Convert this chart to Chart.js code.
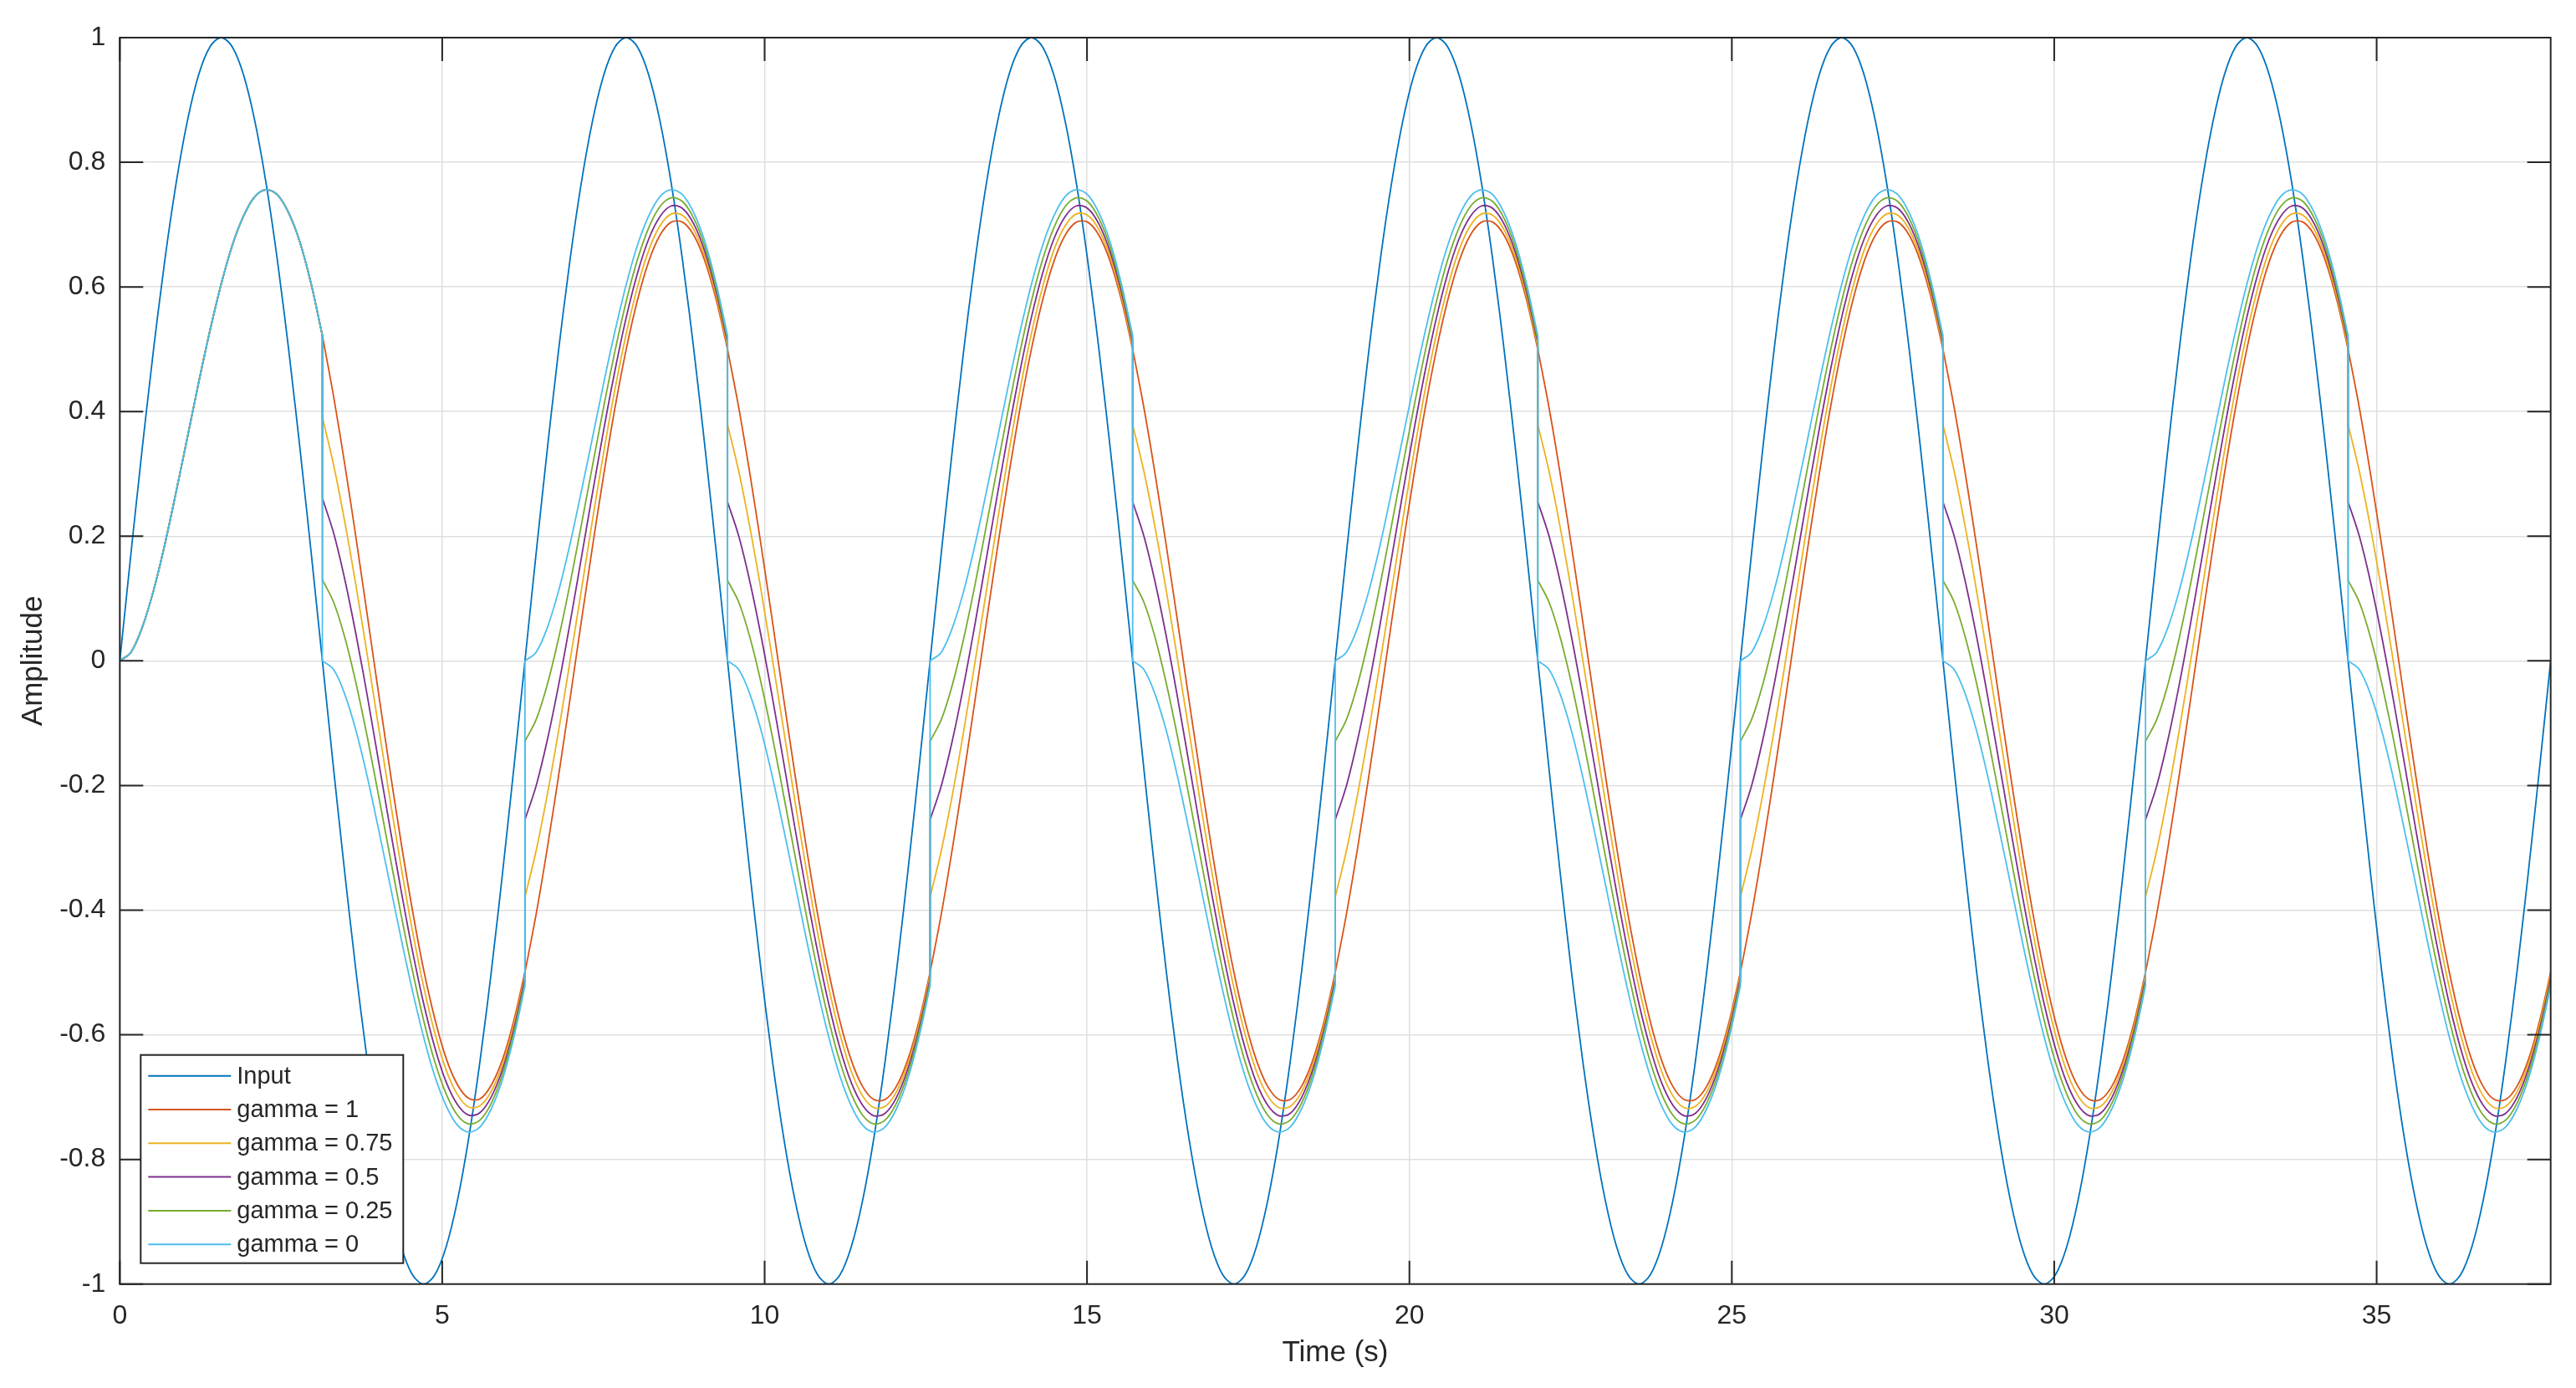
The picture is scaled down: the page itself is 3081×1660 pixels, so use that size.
<!DOCTYPE html>
<html>
<head>
<meta charset="utf-8">
<title>Reset system response</title>
<script src="https://cdn.jsdelivr.net/npm/chart.js@4.4.1/dist/chart.umd.min.js"></script>
<style>
  html, body { margin: 0; padding: 0; background: #fff; }
  #wrap { width: 3081px; height: 1660px; position: relative; }
</style>
</head>
<body>
<div id="wrap"><canvas id="respChart"></canvas></div>
<script>
// --- datos (una fila = medio periodo, pi segundos) ---
const timeS = [
  0, .1745, .3491, .5236, .6981, .8727, 1.0472, 1.2217, 1.3963, 1.5708, 1.7453, 1.9199, 2.0944, 2.2689, 2.4435, 2.618, 2.7925, 2.9671, 3.1416,
  3.1416, 3.3161, 3.4907, 3.6652, 3.8397, 4.0143, 4.1888, 4.3633, 4.5379, 4.7124, 4.8869, 5.0615, 5.236, 5.4105, 5.5851, 5.7596, 5.9341, 6.1087, 6.2832,
  6.2832, 6.4577, 6.6323, 6.8068, 6.9813, 7.1558, 7.3304, 7.5049, 7.6794, 7.854, 8.0285, 8.203, 8.3776, 8.5521, 8.7266, 8.9012, 9.0757, 9.2502, 9.4248,
  9.4248, 9.5993, 9.7738, 9.9484, 10.1229, 10.2974, 10.472, 10.6465, 10.821, 10.9956, 11.1701, 11.3446, 11.5192, 11.6937, 11.8682, 12.0428, 12.2173, 12.3918, 12.5664,
  12.5664, 12.7409, 12.9154, 13.09, 13.2645, 13.439, 13.6136, 13.7881, 13.9626, 14.1372, 14.3117, 14.4862, 14.6608, 14.8353, 15.0098, 15.1844, 15.3589, 15.5334, 15.708,
  15.708, 15.8825, 16.057, 16.2316, 16.4061, 16.5806, 16.7552, 16.9297, 17.1042, 17.2788, 17.4533, 17.6278, 17.8024, 17.9769, 18.1514, 18.326, 18.5005, 18.675, 18.8496,
  18.8496, 19.0241, 19.1986, 19.3732, 19.5477, 19.7222, 19.8968, 20.0713, 20.2458, 20.4204, 20.5949, 20.7694, 20.944, 21.1185, 21.293, 21.4675, 21.6421, 21.8166, 21.9911,
  21.9911, 22.1657, 22.3402, 22.5147, 22.6893, 22.8638, 23.0383, 23.2129, 23.3874, 23.5619, 23.7365, 23.911, 24.0855, 24.2601, 24.4346, 24.6091, 24.7837, 24.9582, 25.1327,
  25.1327, 25.3073, 25.4818, 25.6563, 25.8309, 26.0054, 26.1799, 26.3545, 26.529, 26.7035, 26.8781, 27.0526, 27.2271, 27.4017, 27.5762, 27.7507, 27.9253, 28.0998, 28.2743,
  28.2743, 28.4489, 28.6234, 28.7979, 28.9725, 29.147, 29.3215, 29.4961, 29.6706, 29.8451, 30.0197, 30.1942, 30.3687, 30.5433, 30.7178, 30.8923, 31.0669, 31.2414, 31.4159,
  31.4159, 31.5905, 31.765, 31.9395, 32.1141, 32.2886, 32.4631, 32.6377, 32.8122, 32.9867, 33.1613, 33.3358, 33.5103, 33.6849, 33.8594, 34.0339, 34.2085, 34.383, 34.5575,
  34.5575, 34.7321, 34.9066, 35.0811, 35.2557, 35.4302, 35.6047, 35.7792, 35.9538, 36.1283, 36.3028, 36.4774, 36.6519, 36.8264, 37.001, 37.1755, 37.35, 37.5246, 37.6991
];

const inputY = [
  0, .174, .342, .5, .643, .766, .866, .94, .985, 1, .985, .94, .866, .766, .643, .5, .342, .174, 0,
  0, -.174, -.342, -.5, -.643, -.766, -.866, -.94, -.985, -1, -.985, -.94, -.866, -.766, -.643, -.5, -.342, -.174, 0,
  0, .174, .342, .5, .643, .766, .866, .94, .985, 1, .985, .94, .866, .766, .643, .5, .342, .174, 0,
  0, -.174, -.342, -.5, -.643, -.766, -.866, -.94, -.985, -1, -.985, -.94, -.866, -.766, -.643, -.5, -.342, -.174, 0,
  0, .174, .342, .5, .643, .766, .866, .94, .985, 1, .985, .94, .866, .766, .643, .5, .342, .174, 0,
  0, -.174, -.342, -.5, -.643, -.766, -.866, -.94, -.985, -1, -.985, -.94, -.866, -.766, -.643, -.5, -.342, -.174, 0,
  0, .174, .342, .5, .643, .766, .866, .94, .985, 1, .985, .94, .866, .766, .643, .5, .342, .174, 0,
  0, -.174, -.342, -.5, -.643, -.766, -.866, -.94, -.985, -1, -.985, -.94, -.866, -.766, -.643, -.5, -.342, -.174, 0,
  0, .174, .342, .5, .643, .766, .866, .94, .985, 1, .985, .94, .866, .766, .643, .5, .342, .174, 0,
  0, -.174, -.342, -.5, -.643, -.766, -.866, -.94, -.985, -1, -.985, -.94, -.866, -.766, -.643, -.5, -.342, -.174, 0,
  0, .174, .342, .5, .643, .766, .866, .94, .985, 1, .985, .94, .866, .766, .643, .5, .342, .174, 0,
  0, -.174, -.342, -.5, -.643, -.766, -.866, -.94, -.985, -1, -.985, -.94, -.866, -.766, -.643, -.5, -.342, -.174, 0
];

const gamma1Y = [
  0, .014, .054, .113, .187, .271, .358, .446, .529, .604, .667, .714, .745, .756, .748, .719, .672, .605, .522,
  .522, .424, .314, .196, .072, -.053, -.175, -.292, -.4, -.496, -.575, -.638, -.68, -.702, -.703, -.681, -.64, -.578, -.499,
  -.5, -.406, -.299, -.183, -.062, .062, .183, .299, .406, .5, .579, .641, .683, .704, .704, .683, .641, .579, .5,
  .5, .406, .299, .183, .062, -.062, -.183, -.299, -.406, -.5, -.579, -.641, -.683, -.704, -.704, -.683, -.641, -.579, -.5,
  -.5, -.406, -.299, -.183, -.062, .062, .183, .299, .406, .5, .579, .641, .683, .704, .704, .683, .641, .579, .5,
  .5, .406, .299, .183, .062, -.062, -.183, -.299, -.406, -.5, -.579, -.641, -.683, -.704, -.704, -.683, -.641, -.579, -.5,
  -.5, -.406, -.299, -.183, -.062, .062, .183, .299, .406, .5, .579, .641, .683, .704, .704, .683, .641, .579, .5,
  .5, .406, .299, .183, .062, -.062, -.183, -.299, -.406, -.5, -.579, -.641, -.683, -.704, -.704, -.683, -.641, -.579, -.5,
  -.5, -.406, -.299, -.183, -.062, .062, .183, .299, .406, .5, .579, .641, .683, .704, .704, .683, .641, .579, .5,
  .5, .406, .299, .183, .062, -.062, -.183, -.299, -.406, -.5, -.579, -.641, -.683, -.704, -.704, -.683, -.641, -.579, -.5,
  -.5, -.406, -.299, -.183, -.062, .062, .183, .299, .406, .5, .579, .641, .683, .704, .704, .683, .641, .579, .5,
  .5, .406, .299, .183, .062, -.062, -.183, -.299, -.406, -.5, -.579, -.641, -.683, -.704, -.704, -.683, -.641, -.579, -.5
];

const gamma075Y = [
  0, .014, .054, .113, .187, .271, .358, .446, .529, .604, .667, .714, .745, .756, .748, .719, .672, .605, .522,
  .391, .314, .222, .119, .008, -.107, -.221, -.331, -.433, -.523, -.598, -.657, -.696, -.716, -.714, -.691, -.648, -.585, -.505,
  -.379, -.304, -.213, -.111, -.001, .112, .226, .335, .436, .525, .6, .659, .698, .717, .715, .692, .648, .585, .505,
  .379, .304, .213, .111, .001, -.112, -.226, -.335, -.436, -.525, -.6, -.659, -.698, -.717, -.715, -.692, -.648, -.585, -.505,
  -.379, -.304, -.213, -.111, -.001, .112, .226, .335, .436, .525, .6, .659, .698, .717, .715, .692, .648, .585, .505,
  .379, .304, .213, .111, .001, -.112, -.226, -.335, -.436, -.525, -.6, -.659, -.698, -.717, -.715, -.692, -.648, -.585, -.505,
  -.379, -.304, -.213, -.111, -.001, .112, .226, .335, .436, .525, .6, .659, .698, .717, .715, .692, .648, .585, .505,
  .379, .304, .213, .111, .001, -.112, -.226, -.335, -.436, -.525, -.6, -.659, -.698, -.717, -.715, -.692, -.648, -.585, -.505,
  -.379, -.304, -.213, -.111, -.001, .112, .226, .335, .436, .525, .6, .659, .698, .717, .715, .692, .648, .585, .505,
  .379, .304, .213, .111, .001, -.112, -.226, -.335, -.436, -.525, -.6, -.659, -.698, -.717, -.715, -.692, -.648, -.585, -.505,
  -.379, -.304, -.213, -.111, -.001, .112, .226, .335, .436, .525, .6, .659, .698, .717, .715, .692, .648, .585, .505,
  .379, .304, .213, .111, .001, -.112, -.226, -.335, -.436, -.525, -.6, -.659, -.698, -.717, -.715, -.692, -.648, -.585, -.505
];

const gamma05Y = [
  0, .014, .054, .113, .187, .271, .358, .446, .529, .604, .667, .714, .745, .756, .748, .719, .672, .605, .522,
  .261, .205, .13, .041, -.057, -.162, -.267, -.369, -.465, -.55, -.621, -.676, -.712, -.729, -.725, -.7, -.656, -.592, -.51,
  -.255, -.2, -.126, -.038, .06, .164, .269, .371, .466, .551, .622, .677, .713, .73, .726, .701, .656, .592, .511,
  .255, .2, .126, .038, -.06, -.164, -.269, -.371, -.466, -.551, -.622, -.677, -.713, -.73, -.726, -.701, -.656, -.592, -.511,
  -.255, -.2, -.126, -.038, .06, .164, .269, .371, .466, .551, .622, .677, .713, .73, .726, .701, .656, .592, .511,
  .255, .2, .126, .038, -.06, -.164, -.269, -.371, -.466, -.551, -.622, -.677, -.713, -.73, -.726, -.701, -.656, -.592, -.511,
  -.255, -.2, -.126, -.038, .06, .164, .269, .371, .466, .551, .622, .677, .713, .73, .726, .701, .656, .592, .511,
  .255, .2, .126, .038, -.06, -.164, -.269, -.371, -.466, -.551, -.622, -.677, -.713, -.73, -.726, -.701, -.656, -.592, -.511,
  -.255, -.2, -.126, -.038, .06, .164, .269, .371, .466, .551, .622, .677, .713, .73, .726, .701, .656, .592, .511,
  .255, .2, .126, .038, -.06, -.164, -.269, -.371, -.466, -.551, -.622, -.677, -.713, -.73, -.726, -.701, -.656, -.592, -.511,
  -.255, -.2, -.126, -.038, .06, .164, .269, .371, .466, .551, .622, .677, .713, .73, .726, .701, .656, .592, .511,
  .255, .2, .126, .038, -.06, -.164, -.269, -.371, -.466, -.551, -.622, -.677, -.713, -.73, -.726, -.701, -.656, -.592, -.511
];

const gamma025Y = [
  0, .014, .054, .113, .187, .271, .358, .446, .529, .604, .667, .714, .745, .756, .748, .719, .672, .605, .522,
  .13, .094, .037, -.037, -.123, -.217, -.313, -.408, -.497, -.577, -.644, -.695, -.729, -.743, -.737, -.71, -.664, -.598, -.516,
  -.129, -.094, -.037, .037, .123, .217, .313, .408, .497, .577, .644, .695, .729, .743, .737, .71, .664, .598, .516,
  .129, .094, .037, -.037, -.123, -.217, -.313, -.408, -.497, -.577, -.644, -.695, -.729, -.743, -.737, -.71, -.664, -.598, -.516,
  -.129, -.094, -.037, .037, .123, .217, .313, .408, .497, .577, .644, .695, .729, .743, .737, .71, .664, .598, .516,
  .129, .094, .037, -.037, -.123, -.217, -.313, -.408, -.497, -.577, -.644, -.695, -.729, -.743, -.737, -.71, -.664, -.598, -.516,
  -.129, -.094, -.037, .037, .123, .217, .313, .408, .497, .577, .644, .695, .729, .743, .737, .71, .664, .598, .516,
  .129, .094, .037, -.037, -.123, -.217, -.313, -.408, -.497, -.577, -.644, -.695, -.729, -.743, -.737, -.71, -.664, -.598, -.516,
  -.129, -.094, -.037, .037, .123, .217, .313, .408, .497, .577, .644, .695, .729, .743, .737, .71, .664, .598, .516,
  .129, .094, .037, -.037, -.123, -.217, -.313, -.408, -.497, -.577, -.644, -.695, -.729, -.743, -.737, -.71, -.664, -.598, -.516,
  -.129, -.094, -.037, .037, .123, .217, .313, .408, .497, .577, .644, .695, .729, .743, .737, .71, .664, .598, .516,
  .129, .094, .037, -.037, -.123, -.217, -.313, -.408, -.497, -.577, -.644, -.695, -.729, -.743, -.737, -.71, -.664, -.598, -.516
];

const gamma0Y = [
  0, .014, .054, .113, .187, .271, .358, .446, .529, .604, .667, .714, .745, .756, .748, .719, .672, .605, .522,
  0, -.014, -.054, -.113, -.187, -.271, -.358, -.446, -.529, -.604, -.667, -.714, -.745, -.756, -.748, -.719, -.672, -.605, -.522,
  0, .014, .054, .113, .187, .271, .358, .446, .529, .604, .667, .714, .745, .756, .748, .719, .672, .605, .522,
  0, -.014, -.054, -.113, -.187, -.271, -.358, -.446, -.529, -.604, -.667, -.714, -.745, -.756, -.748, -.719, -.672, -.605, -.522,
  0, .014, .054, .113, .187, .271, .358, .446, .529, .604, .667, .714, .745, .756, .748, .719, .672, .605, .522,
  0, -.014, -.054, -.113, -.187, -.271, -.358, -.446, -.529, -.604, -.667, -.714, -.745, -.756, -.748, -.719, -.672, -.605, -.522,
  0, .014, .054, .113, .187, .271, .358, .446, .529, .604, .667, .714, .745, .756, .748, .719, .672, .605, .522,
  0, -.014, -.054, -.113, -.187, -.271, -.358, -.446, -.529, -.604, -.667, -.714, -.745, -.756, -.748, -.719, -.672, -.605, -.522,
  0, .014, .054, .113, .187, .271, .358, .446, .529, .604, .667, .714, .745, .756, .748, .719, .672, .605, .522,
  0, -.014, -.054, -.113, -.187, -.271, -.358, -.446, -.529, -.604, -.667, -.714, -.745, -.756, -.748, -.719, -.672, -.605, -.522,
  0, .014, .054, .113, .187, .271, .358, .446, .529, .604, .667, .714, .745, .756, .748, .719, .672, .605, .522,
  0, -.014, -.054, -.113, -.187, -.271, -.358, -.446, -.529, -.604, -.667, -.714, -.745, -.756, -.748, -.719, -.672, -.605, -.522
];

const seriesNames = ['Input', 'gamma = 1', 'gamma = 0.75', 'gamma = 0.5', 'gamma = 0.25', 'gamma = 0'];
const seriesColors = ['#0072BD', '#D95319', '#EDB120', '#7E2F8E', '#77AC30', '#4DBEEE'];
const xTicks = [0, 5, 10, 15, 20, 25, 30, 35];
const yTicks = [-1, -0.8, -0.6, -0.4, -0.2, 0, 0.2, 0.4, 0.6, 0.8, 1];

const FONT = '"Liberation Sans", Arial, Helvetica, sans-serif';
const axisColor = '#262626';
const gridColor = '#dfdfdf';
const tickLen = 28;

// tramos suaves: se corta la curva donde el tiempo se repite (reinicio)
function smoothPoints(vals) {
    const pts = [];
    vals.forEach(function (v, i) {
        if (i > 0 && timeS[i] === timeS[i - 1]) pts.push({ x: timeS[i], y: null });
        pts.push({ x: timeS[i], y: v });
    });
    return pts;
}

// saltos verticales en los instantes de reinicio
function jumpPoints(vals) {
    const pts = [];
    vals.forEach(function (v, i) {
        if (i > 0 && timeS[i] === timeS[i - 1]) {
            pts.push({ x: timeS[i], y: vals[i - 1] }, { x: timeS[i], y: v }, { x: timeS[i], y: null });
        }
    });
    return pts;
}

// caja de ejes estilo MATLAB + leyenda dentro del area (abajo a la izquierda)
const matlabFrame = {
    id: 'matlabFrame',
    afterDatasetsDraw(chart) {
        const { ctx, chartArea: a, scales: { x, y } } = chart;
        ctx.save();
        ctx.strokeStyle = axisColor;
        ctx.lineWidth = 2;
        ctx.beginPath();
        xTicks.forEach(function (v) {
            const px = x.getPixelForValue(v);
            ctx.moveTo(px, a.bottom); ctx.lineTo(px, a.bottom - tickLen);
            ctx.moveTo(px, a.top); ctx.lineTo(px, a.top + tickLen);
        });
        yTicks.forEach(function (v) {
            const py = y.getPixelForValue(v);
            ctx.moveTo(a.left, py); ctx.lineTo(a.left + tickLen, py);
            ctx.moveTo(a.right, py); ctx.lineTo(a.right - tickLen, py);
        });
        ctx.stroke();
        ctx.strokeRect(a.left, a.top, a.right - a.left, a.bottom - a.top);
        ctx.restore();
    },
    afterDraw(chart) {
        const { ctx, chartArea: a } = chart;
        const w = 314, h = 249;
        const left = a.left + 25, top = a.bottom - 25 - h;
        ctx.save();
        ctx.fillStyle = '#fff';
        ctx.fillRect(left, top, w, h);
        ctx.strokeStyle = axisColor;
        ctx.lineWidth = 2;
        ctx.strokeRect(left, top, w, h);
        ctx.font = '29px ' + FONT;
        ctx.textBaseline = 'middle';
        ctx.textAlign = 'left';
        seriesNames.forEach(function (name, i) {
            const ry = top + 25 + i * 40.3;
            ctx.strokeStyle = seriesColors[i];
            ctx.lineWidth = 2;
            ctx.beginPath();
            ctx.moveTo(left + 9, ry);
            ctx.lineTo(left + 108, ry);
            ctx.stroke();
            ctx.fillStyle = axisColor;
            ctx.fillText(name, left + 115, ry + 1);
        });
        ctx.restore();
    }
};

const allY = [inputY, gamma1Y, gamma075Y, gamma05Y, gamma025Y, gamma0Y];
const lineStyle = { borderWidth: 1.8, borderJoinStyle: 'round', pointRadius: 0, pointHoverRadius: 0, fill: false, spanGaps: false };

const curveSets = allY.map(function (vals, i) {
    return Object.assign({
        label: seriesNames[i],
        data: smoothPoints(vals),
        borderColor: seriesColors[i],
        backgroundColor: seriesColors[i],
        tension: 1 / 3,
        order: allY.length - 1 - i   // el primero queda debajo, como en MATLAB
    }, lineStyle);
});
const jumpSets = allY.map(function (vals, i) {
    return Object.assign({
        label: seriesNames[i] + ' (reset)',
        data: jumpPoints(vals),
        borderColor: seriesColors[i],
        backgroundColor: seriesColors[i],
        tension: 0,
        order: allY.length - 1 - i
    }, lineStyle);
});

new Chart(document.getElementById('respChart'), {
    type: 'line',
    data: { datasets: curveSets.concat(jumpSets) },
    options: {
        responsive: true,
        maintainAspectRatio: false,
        animation: false,
        events: [],
        layout: { padding: { top: 45, right: 30.3, left: 0, bottom: 0 } },
        plugins: {
            legend: { display: false },
            tooltip: { enabled: false }
        },
        scales: {
            x: {
                type: 'linear',
                min: 0,
                max: timeS[timeS.length - 1],
                afterFit: function (s) { s.height = 124.3; },
                afterBuildTicks: function (s) { s.ticks = xTicks.map(function (v) { return { value: v }; }); },
                grid: { color: gridColor, lineWidth: 1.5, drawTicks: false },
                border: { display: false },
                ticks: {
                    autoSkip: false, maxRotation: 0, padding: 19, color: axisColor,
                    font: { family: FONT, size: 32 },
                    callback: function (v) { return String(v); }
                },
                title: {
                    display: true, text: 'Time (s)', color: axisColor,
                    font: { family: FONT, size: 35, lineHeight: 1 },
                    padding: { top: 0, bottom: 24.5 }
                }
            },
            y: {
                type: 'linear',
                min: -1,
                max: 1,
                afterFit: function (s) { s.width = 143.3; },
                afterBuildTicks: function (s) { s.ticks = yTicks.map(function (v) { return { value: v }; }); },
                grid: { color: gridColor, lineWidth: 1.5, drawTicks: false },
                border: { display: false },
                ticks: {
                    autoSkip: false, padding: 17, color: axisColor,
                    font: { family: FONT, size: 32 },
                    callback: function (v) { return String(v); }
                },
                title: {
                    display: true, text: 'Amplitude', color: axisColor,
                    font: { family: FONT, size: 35, lineHeight: 1 },
                    padding: { top: 22.5, bottom: 0 }
                }
            }
        }
    },
    plugins: [matlabFrame]
});
</script>
</body>
</html>
